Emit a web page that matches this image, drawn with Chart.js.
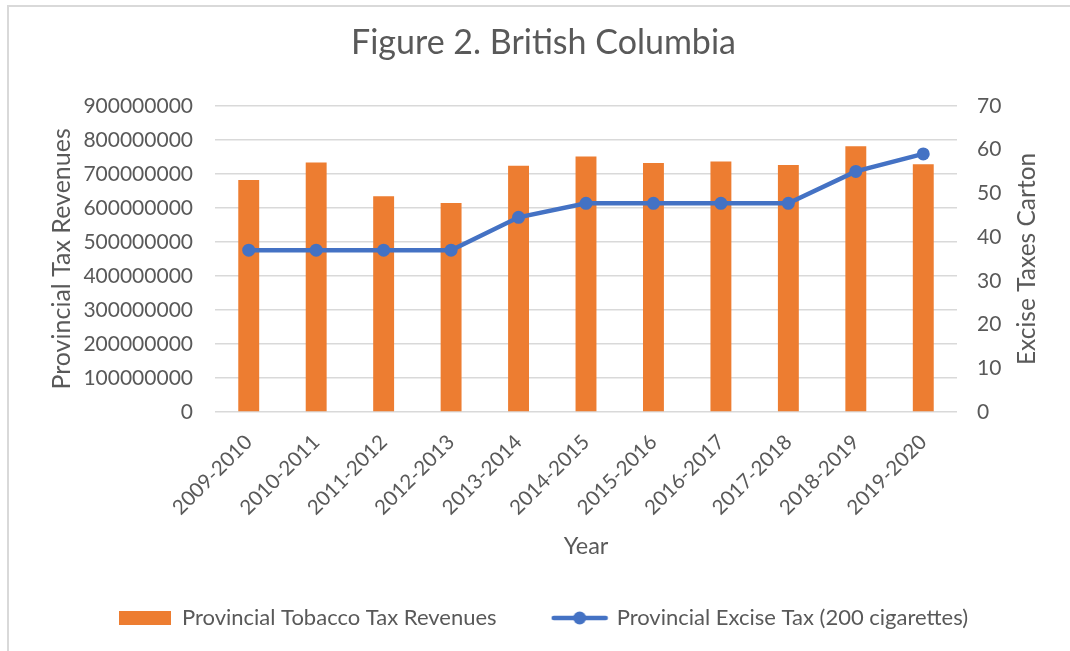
<!DOCTYPE html>
<html>
<head>
<meta charset="utf-8">
<title>Figure 2. British Columbia</title>
<script src="https://cdn.jsdelivr.net/npm/chart.js@4.4.1/dist/chart.umd.min.js"></script>
<style>
    html, body { margin: 0; padding: 0; background: #fff; }
    #marco {
        position: absolute; left: 7px; top: 5px; width: 1100px; height: 700px;
        border-left: 2px solid #d9d9d9; border-top: 2px solid #d9d9d9;
    }
    #grafico { position: absolute; left: 0; top: 0; }
</style>
</head>
<body>
<div id="marco"></div>
<canvas id="grafico" width="1070" height="651"></canvas>
<script>
// --- DATOS ---
const years = ['2009-2010', '2010-2011', '2011-2012', '2012-2013', '2013-2014', '2014-2015',
    '2015-2016', '2016-2017', '2017-2018', '2018-2019', '2019-2020'];
const tobaccoRevenues = [682000000, 733000000, 634000000, 614000000, 724000000, 751000000,
    732000000, 736000000, 726000000, 781000000, 728000000];
const exciseTax = [37, 37, 37, 37, 44.5, 47.7, 47.7, 47.7, 47.7, 55, 59];
const revenueTicks = [0, 100000000, 200000000, 300000000, 400000000, 500000000, 600000000, 700000000, 800000000, 900000000];
const exciseTicks = [0, 10, 20, 30, 40, 50, 60, 70];

const NARANJA = '#ED7D31';
const AZUL = '#4472C4';
const TEXTO = '#595959';
const FUENTE = 'Lato, "Noto Sans", sans-serif';

// --- ICONOS DE LA LEYENDA ---
const iconoBarra = document.createElement('canvas');
iconoBarra.width = 52; iconoBarra.height = 14;
(() => {
    const c = iconoBarra.getContext('2d');
    c.fillStyle = NARANJA;
    c.fillRect(0, 0, 52, 14);
})();

const iconoLinea = document.createElement('canvas');
iconoLinea.width = 58; iconoLinea.height = 16;
(() => {
    const c = iconoLinea.getContext('2d');
    c.strokeStyle = AZUL;
    c.lineWidth = 4.5;
    c.lineCap = 'round';
    c.beginPath(); c.moveTo(3, 8); c.lineTo(55, 8); c.stroke();
    c.fillStyle = AZUL;
    c.beginPath(); c.arc(29, 8, 6.5, 0, Math.PI * 2); c.fill();
})();

// el titulo del eje derecho se lee de abajo hacia arriba, como el izquierdo
const tituloDerecho = {
    id: 'tituloDerecho',
    afterDraw(chart) {
        const { ctx, chartArea } = chart;
        ctx.save();
        ctx.translate(1027, (chartArea.top + chartArea.bottom) / 2);
        ctx.rotate(-Math.PI / 2);
        ctx.font = '24.5px ' + FUENTE;
        ctx.fillStyle = TEXTO;
        ctx.textAlign = 'center';
        ctx.textBaseline = 'middle';
        ctx.fillText('Excise Taxes Carton', 0, 0);
        ctx.restore();
    }
};

Chart.defaults.font.family = FUENTE;
Chart.defaults.color = TEXTO;

new Chart(document.getElementById('grafico'), {
    data: {
        labels: years,
        datasets: [{
            type: 'bar',
            label: 'Provincial Tobacco Tax Revenues',
            data: tobaccoRevenues,
            backgroundColor: NARANJA,
            yAxisID: 'y',
            barPercentage: 0.31,
            categoryPercentage: 1,
            order: 2
        }, {
            type: 'line',
            label: 'Provincial Excise Tax (200 cigarettes)',
            data: exciseTax,
            borderColor: AZUL,
            backgroundColor: AZUL,
            borderWidth: 4.5,
            pointRadius: 6.5,
            pointHoverRadius: 6.5,
            pointBorderWidth: 0,
            tension: 0,
            yAxisID: 'y1',
            order: 1
        }]
    },
    options: {
        responsive: false,
        animation: false,
        devicePixelRatio: 1,
        layout: { padding: { left: 43, right: 26, top: 0, bottom: 12 } },
        plugins: {
            title: {
                display: true,
                text: 'Figure 2. British Columbia',
                color: TEXTO,
                font: { size: 34, weight: 'normal' },
                padding: { top: 23, bottom: 42 }
            },
            legend: {
                position: 'bottom',
                labels: {
                    usePointStyle: true,
                    pointStyleWidth: 52,
                    padding: 57,
                    color: TEXTO,
                    font: { size: 22 },
                    generateLabels: (chart) => [
                        { text: chart.data.datasets[0].label, pointStyle: iconoBarra, fillStyle: NARANJA, strokeStyle: NARANJA, lineWidth: 0, hidden: false, datasetIndex: 0, fontColor: TEXTO },
                        { text: chart.data.datasets[1].label, pointStyle: iconoLinea, fillStyle: AZUL, strokeStyle: AZUL, lineWidth: 0, hidden: false, datasetIndex: 1, fontColor: TEXTO }
                    ]
                }
            },
            tooltip: { enabled: false }
        },
        scales: {
            x: {
                grid: { display: false },
                border: { display: false },
                ticks: { minRotation: 45, maxRotation: 45, padding: 10, font: { size: 20.5 }, color: TEXTO },
                title: { display: true, text: 'Year', font: { size: 23.5 }, color: TEXTO, padding: { top: 0, bottom: -11 } },
                afterFit: (scale) => { scale.height = 138; }
            },
            y: {
                position: 'left',
                min: 0,
                max: revenueTicks[revenueTicks.length - 1],
                afterBuildTicks: (scale) => { scale.ticks = revenueTicks.map(v => ({ value: v })); },
                grid: { color: '#d9d9d9', lineWidth: 1.5, drawTicks: false },
                border: { display: false },
                ticks: { padding: 22, font: { size: 21 }, color: TEXTO, callback: (v) => String(v) },
                title: { display: true, text: 'Provincial Tax Revenues', font: { size: 25 }, color: TEXTO, padding: { top: 4, bottom: 4 } },
                afterFit: (scale) => { scale.width = 172; }
            },
            y1: {
                position: 'right',
                min: 0,
                max: exciseTicks[exciseTicks.length - 1],
                afterBuildTicks: (scale) => { scale.ticks = exciseTicks.map(v => ({ value: v })); },
                grid: { display: false },
                border: { display: false },
                ticks: { padding: 12, font: { size: 21 }, color: TEXTO },
                title: { display: false },
                afterFit: (scale) => { scale.width = 87; }
            }
        }
    },
    plugins: [tituloDerecho]
});
</script>
</body>
</html>
